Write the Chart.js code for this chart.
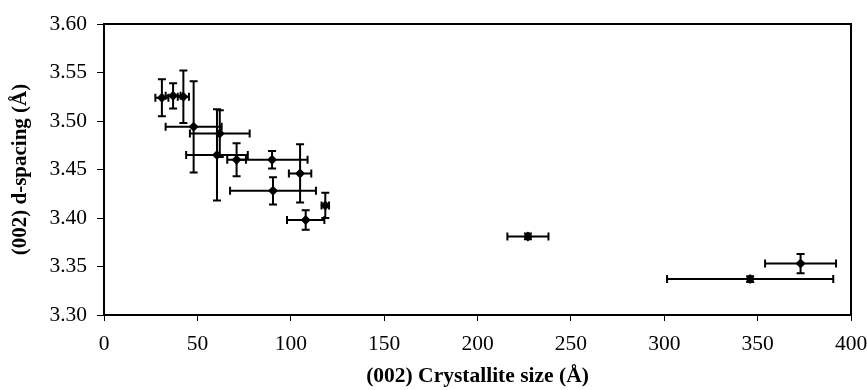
<!DOCTYPE html>
<html>
<head>
<meta charset="utf-8">
<script src="https://cdn.jsdelivr.net/npm/chart.js@4/dist/chart.umd.min.js"></script>
<style>
  html, body { margin: 0; padding: 0; background: #fff; }
  #wrap { width: 867px; height: 390px; }
</style>
</head>
<body>
<div id="wrap"><canvas id="c" width="867" height="390"></canvas></div>
<script>
// Crystallite size (Å) and its error
const crystalliteSize = [31, 37, 42.5, 48, 62, 60.5, 71, 90, 105, 90.5, 108, 118.5, 227, 373, 346];
const sizeError       = [3.5, 4, 3, 15, 16, 16.5, 5, 19, 6, 23, 10, 2, 11, 19, 44.5];
// d-spacing (Å) and its error
const dSpacing        = [3.524, 3.526, 3.525, 3.494, 3.487, 3.465, 3.460, 3.460, 3.446, 3.428, 3.398, 3.413, 3.381, 3.353, 3.337];
const dSpacingError   = [0.019, 0.013, 0.027, 0.047, 0.024, 0.047, 0.017, 0.009, 0.030, 0.014, 0.010, 0.013, 0.003, 0.010, 0.003];

const xTicks = [0, 50, 100, 150, 200, 250, 300, 350, 400];
const yTicks = [3.30, 3.35, 3.40, 3.45, 3.50, 3.55, 3.60];

const FONT = "'Liberation Serif', 'Times New Roman', serif";

const points = crystalliteSize.map((v, i) => ({ x: v, y: dSpacing[i] }));

const errorBars = {
  id: 'errorBars',
  beforeDatasetsDraw(chart) {
    const { ctx, scales: { x, y } } = chart;
    const cap = 4;
    ctx.save();
    ctx.strokeStyle = '#000';
    ctx.lineWidth = 2;
    crystalliteSize.forEach((xv, i) => {
      const yv = dSpacing[i];
      const px = x.getPixelForValue(xv);
      const py = y.getPixelForValue(yv);
      const xl = x.getPixelForValue(xv - sizeError[i]);
      const xr = x.getPixelForValue(xv + sizeError[i]);
      const yt = y.getPixelForValue(yv + dSpacingError[i]);
      const yb = y.getPixelForValue(yv - dSpacingError[i]);
      ctx.beginPath();
      ctx.moveTo(xl, py); ctx.lineTo(xr, py);
      ctx.moveTo(xl, py - cap); ctx.lineTo(xl, py + cap);
      ctx.moveTo(xr, py - cap); ctx.lineTo(xr, py + cap);
      ctx.moveTo(px, yt); ctx.lineTo(px, yb);
      ctx.moveTo(px - cap, yt); ctx.lineTo(px + cap, yt);
      ctx.moveTo(px - cap, yb); ctx.lineTo(px + cap, yb);
      ctx.stroke();
    });
    ctx.restore();
  },
  afterDraw(chart) {
    const { ctx, chartArea: a } = chart;
    ctx.save();
    ctx.strokeStyle = '#000';
    ctx.lineWidth = 2;
    ctx.strokeRect(a.left, a.top, a.right - a.left, a.bottom - a.top);
    ctx.restore();
  }
};

new Chart(document.getElementById('c'), {
  type: 'scatter',
  data: {
    datasets: [{
      data: points,
      pointStyle: 'rectRot',
      pointRadius: 5,
      pointBackgroundColor: '#000',
      pointBorderColor: '#000',
      pointBorderWidth: 0
    }]
  },
  options: {
    responsive: false,
    animation: false,
    devicePixelRatio: 1,
    layout: { padding: { left: 0, right: 16, top: 24, bottom: 0 } },
    plugins: { legend: { display: false }, tooltip: { enabled: false } },
    scales: {
      x: {
        type: 'linear',
        min: 0, max: 400,
        afterBuildTicks(s) { s.ticks = xTicks.map(v => ({ value: v })); },
        afterFit(s) { s.height = 75; s.paddingLeft = 0; s.paddingRight = 0; },
        grid: { drawOnChartArea: false, drawTicks: true, tickLength: 6, color: '#000', tickColor: '#000' },
        border: { display: true, color: '#000', width: 2 },
        ticks: { color: '#000', font: { family: FONT, size: 21.5 }, padding: 10, maxRotation: 0 },
        title: {
          display: true,
          text: '(002) Crystallite size (Å)',
          color: '#000',
          font: { family: FONT, size: 21.5, weight: 'bold' },
          padding: { top: 0, bottom: 1 }
        }
      },
      y: {
        type: 'linear',
        min: 3.30, max: 3.60,
        afterBuildTicks(s) { s.ticks = yTicks.map(v => ({ value: v })); },
        afterFit(s) { s.width = 104; s.paddingTop = 0; s.paddingBottom = 0; },
        grid: { drawOnChartArea: false, drawTicks: true, tickLength: 7, color: '#000', tickColor: '#000' },
        border: { display: true, color: '#000', width: 2 },
        ticks: {
          color: '#000',
          font: { family: FONT, size: 21.5 },
          padding: 10,
          callback: v => Number(v).toFixed(2)
        },
        title: {
          display: true,
          text: '(002) d-spacing (Å)',
          color: '#000',
          font: { family: FONT, size: 21, weight: 'bold' },
          padding: { top: 8, bottom: 0 }
        }
      }
    }
  },
  plugins: [errorBars]
});
</script>
</body>
</html>
